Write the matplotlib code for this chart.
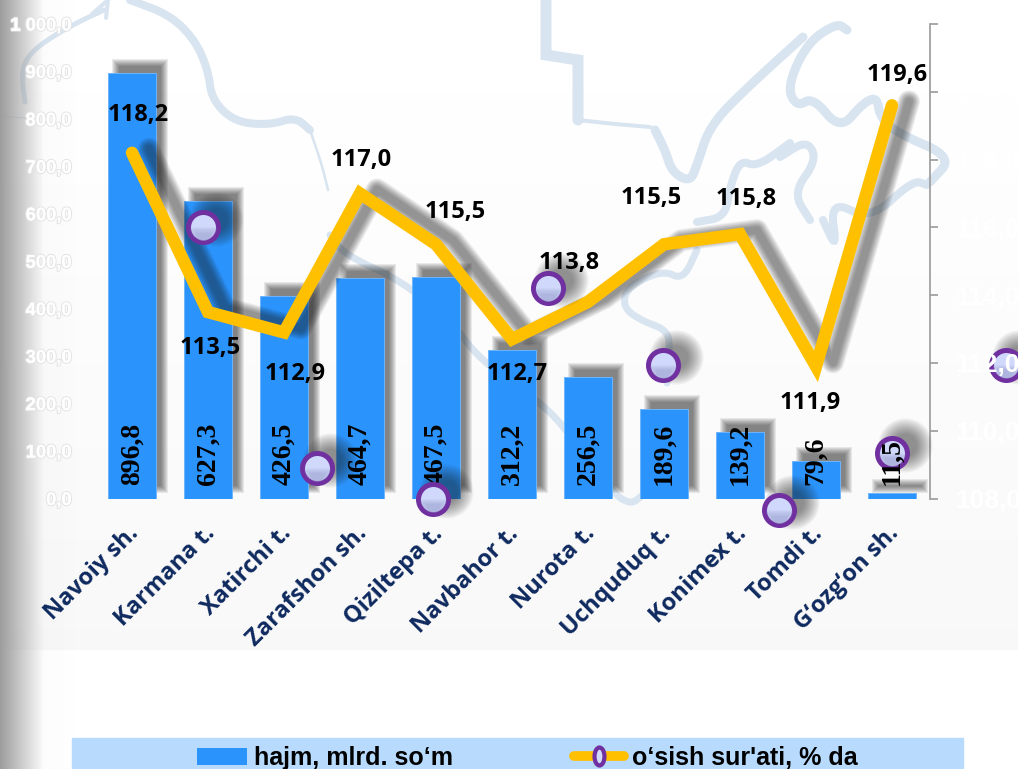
import numpy as np
import matplotlib
matplotlib.use('Agg')
import matplotlib.pyplot as plt
import matplotlib.patheffects as pe
from matplotlib.lines import Line2D
from matplotlib.patches import Patch, Rectangle
from matplotlib.path import Path
from matplotlib.transforms import Affine2D, ScaledTranslation

# Data
districts = ['Navoiy sh.', 'Karmana t.', 'Xatirchi t.', 'Zarafshon sh.', 'Qiziltepa t.',
             'Navbahor t.', 'Nurota t.', 'Uchquduq t.', 'Konimex t.', 'Tomdi t.', 'G‘ozg‘on sh.']
volume = [896.8, 627.3, 426.5, 464.7, 467.5, 312.2, 256.5, 189.6, 139.2, 79.6, 11.5]
volume_labels = ['896,8', '627,3', '426,5', '464,7', '467,5', '312,2', '256,5', '189,6', '139,2', '79,6', '11,5']
growth = [118.2, 113.5, 112.9, 117.0, 115.5, 112.7, 113.8, 115.5, 115.8, 111.9, 119.6]
growth_labels = ['118,2', '113,5', '112,9', '117,0', '115,5', '112,7', '113,8', '115,5', '115,8', '111,9', '119,6']
# label offsets from the line points, in pixels
growth_offsets = [(6, 38), (2, -36), (11, -42), (1, 33), (19, 32), (5, -35),
                  (-19, 39), (-13, 46), (6, 35), (-6, -37), (5, 30)]

# the markers sit away from the line in the original
marker_x = [0.93, 2.44, 3.96, 5.47, 6.99, 8.51, 10.0, 11.5]
marker_y = [116.0, 108.9, 108.0, 114.2, 111.95, 107.65, 109.35, 111.95]

left_ticks = [0, 100, 200, 300, 400, 500, 600, 700, 800, 900, 1000]
left_ticklabels = ['0,0', '100,0', '200,0', '300,0', '400,0', '500,0', '600,0', '700,0', '800,0', '900,0', '1 000,0']
right_ticks = [108, 110, 112, 114, 116, 118, 120, 122]
right_ticklabels = ['108,0', '110,0', '112,0', '114,0', '116,0', '118,0', '120,0', '122,0']

# Background map outlines (picture coordinates), last item: width, smooth or not
map_lines = [
    ([25, 22, 24, 38, 70, 104], [102, 80, 62, 46, 26, 10], 5, True),
    ([92, 108, 106], [14, 0, 18], 4, False),
    ([130, 170, 195, 208, 212, 235, 270, 295, 310], [0, 15, 40, 70, 100, 122, 125, 117, 130], 8, True),
    ([310, 322, 328], [130, 165, 190], 2.5, True),
    ([0, 25], [116, 118], 1, False),
    ([546, 546, 578, 578], [0, 55, 60, 120], 11, False),
    ([578, 615, 650], [120, 124, 127], 4, False),
    ([655, 665, 672, 690, 697, 710, 750, 803], [130, 150, 172, 182, 165, 125, 85, 37], 9, True),
    ([790, 757, 740, 730, 725, 697], [143, 167, 160, 187, 217, 222], 8, True),
    ([697, 683, 663, 627, 623, 640, 667, 670, 667], [250, 280, 270, 287, 307, 320, 330, 347, 383], 7, True),
    ([847, 837, 807, 787, 797, 813, 840, 863, 877, 880, 897, 953, 930],
     [30, 23, 43, 87, 107, 97, 130, 103, 97, 117, 133, 157, 182], 9, True),
    ([780, 807, 817, 793, 810], [157, 140, 160, 193, 220], 8, True),
    ([823, 837, 830, 870, 913, 927], [220, 250, 200, 220, 180, 185], 8, True),
    ([330, 345, 400, 450, 480, 537, 563, 610, 630, 643], [235, 255, 280, 320, 360, 400, 425, 490, 505, 495], 7, True),
]


def soften(xs, ys, rounds=3):
    # corner cutting, only for the decorative map lines
    pts = np.column_stack([xs, ys]).astype(float)
    for _ in range(rounds):
        q = 0.75 * pts[:-1] + 0.25 * pts[1:]
        r = 0.25 * pts[:-1] + 0.75 * pts[1:]
        pts = np.vstack([pts[0], np.column_stack([q, r]).reshape(-1, 2), pts[-1]])
    return pts[:, 0], pts[:, 1]


W, H = 1018, 769
fig = plt.figure(figsize=(W / 100, H / 100), dpi=100, facecolor='white')

# background layer in picture pixels
bg = fig.add_axes([0, 0, 1, 1], zorder=0)
shade = np.linspace(1.0, 0.972, 64)[:, None]
bg.imshow(shade, extent=[0, W, 650, 0], cmap='gray', vmin=0, vmax=1, aspect='auto', zorder=0)
for xs, ys, lw, smooth in map_lines:
    if smooth:
        xs, ys = soften(xs, ys)
    bg.plot(xs, ys, color='#d8e4f0', lw=lw * 0.72, solid_capstyle='round', solid_joinstyle='miter', zorder=1)
edge = np.zeros((1, 96, 4))
edge[0, :, :3] = 0.6
ramp = np.linspace(0, 96, 96)
edge[0, :, 3] = np.clip((44 - ramp) / 44, 0, 1) * 0.9 + np.clip((80 - ramp) / 80, 0, 1) * 0.06
bg.imshow(edge, extent=[0, 96, H, 0], aspect='auto', zorder=2)
bg.set_xlim(0, W)
bg.set_ylim(H, 0)
bg.axis('off')
bg.add_patch(Rectangle((72, 738), 891, 31, color='#b7dafd', zorder=3))

# plot area: x 94-930, y 24-498 in picture pixels
pos = [94 / W, 1 - 498.5 / H, 836 / W, 474.5 / H]
ax = fig.add_axes(pos, zorder=1)
ax2 = ax.twinx()
ax2.set_zorder(2)
ax.patch.set_visible(False)
ax2.patch.set_visible(False)
x = np.arange(len(districts))
units = 1000 / 474.5  # left axis units per pixel


def shifted(axis, dx, dy):
    return axis.transData + ScaledTranslation(dx / 100, dy / 100, fig.dpi_scale_trans)


# bar shadows, stacked to fake the blur
for grow in range(8, -7, -2):
    ax.bar(x, np.array(volume) + grow * units, bottom=-grow * units / 2, width=(48 + grow) / 76,
           color='#202020', edgecolor='none', alpha=0.09, transform=shifted(ax, 8, 10), zorder=1)
ax.bar(x, volume, width=48 / 76, color='#2b93fc', edgecolor='#6db5fd', linewidth=0.7, zorder=2)

ax.set_xlim(-0.5, 10.5)
ax.set_ylim(0, 1000)
ax.set_yticks(left_ticks)
ax.set_yticklabels(left_ticklabels, color='white', fontsize=13.2, fontweight='bold', family='Liberation Sans')
ax.tick_params(axis='y', length=0, pad=16)
for lab in ax.get_yticklabels():
    lab.set_path_effects([pe.withStroke(linewidth=1.6, foreground='#e4e4e4'), pe.Normal()])
ax.set_xticks(x)
ax.set_xticklabels(districts, rotation=45, ha='right', va='top', rotation_mode='anchor',
                   color='#0f2a5f', fontsize=17, fontweight='bold', family='Open Sans')
ax.tick_params(axis='x', length=0, pad=16)
nudge = ScaledTranslation(-5 / 100, -1 / 100, fig.dpi_scale_trans)
for lab in ax.get_xticklabels():
    lab.set_transform(lab.get_transform() + nudge)
for s in ax.spines.values():
    s.set_visible(False)

# line and its shadow
for extra in range(9, -6, -1):
    ax2.plot(x, growth, color='#202020', lw=9 + extra * 0.8, alpha=0.04, transform=shifted(ax2, 17, 4),
             solid_capstyle='round', solid_joinstyle='round', zorder=1)
ax2.plot(x, growth, color='#ffc000', lw=9, solid_capstyle='round', solid_joinstyle='miter', zorder=2)

# markers with shadow
for extra in range(14, -10, -2):
    ax2.plot(marker_x, marker_y, ls='none', marker='o', ms=25 + extra, mfc='#202020', mec='none',
             alpha=0.05, transform=shifted(ax2, 13, 8), clip_on=False, zorder=3)
ax2.plot(marker_x, marker_y, ls='none', marker='o', ms=21.6, mfc='#d0d9fb', mec='#7030a0', mew=3.6,
         clip_on=False, zorder=4)
# darker lower part of the marker face
for drop, size, alpha in [(0, 19, 0.25), (-3, 16, 0.35), (-6, 12, 0.45)]:
    ax2.plot(marker_x, marker_y, ls='none', marker='o', ms=size, fillstyle='bottom', mfc='#a4aad6',
             markerfacecoloralt='none', mec='none', alpha=alpha, clip_on=False,
             transform=shifted(ax2, 0, drop * 0.7), zorder=4.1)

ax2.set_ylim(108, 122)
ax2.set_yticks(right_ticks)
ax2.set_yticklabels(right_ticklabels, color='white', fontsize=19, fontweight='bold', family='Liberation Sans')
ax2.tick_params(axis='y', length=6, width=1.2, color='#9a9a9a', pad=12)
for name, s in ax2.spines.items():
    s.set_visible(name == 'right')
ax2.spines['right'].set_color('#9a9a9a')
ax2.spines['right'].set_linewidth(1.2)
ax2.yaxis.set_zorder(10)

# bar value labels, the last one sits on top of its marker
for i, txt in enumerate(volume_labels):
    ax2.annotate(txt, (x[i], 108), xytext=(0, 14), textcoords='offset pixels', rotation=90,
                 ha='center', va='bottom', fontsize=20, fontweight='bold', family='Liberation Serif',
                 color='black', zorder=5 if i == 10 else 3)

for i, txt in enumerate(growth_labels):
    ax2.annotate(txt, (x[i], growth[i]), xytext=growth_offsets[i], textcoords='offset pixels',
                 ha='center', va='center', fontsize=17, fontweight='bold', family='Open Sans',
                 color='black', zorder=6)

# legend
oval = Path.unit_circle().transformed(Affine2D().scale(0.55, 1))
handles = [
    Patch(facecolor='#2b93fc', edgecolor='none', label='hajm, mlrd. so‘m'),
    Line2D([0], [0], color='#ffc000', lw=7, solid_capstyle='round', marker=oval, ms=13,
           mfc='#d0d9fb', mec='#7030a0', mew=3, label="o‘sish sur'ati, % da"),
]
fig.legend(handles=handles, loc='center left', bbox_to_anchor=(184 / W, 1 - 758 / H), ncol=2, frameon=False,
           prop={'family': 'Liberation Sans', 'weight': 'bold', 'size': 18},
           handlelength=2.0, handleheight=0.7, handletextpad=0.3, columnspacing=4.85, borderpad=0)

fig.savefig('out.png', dpi=100)
